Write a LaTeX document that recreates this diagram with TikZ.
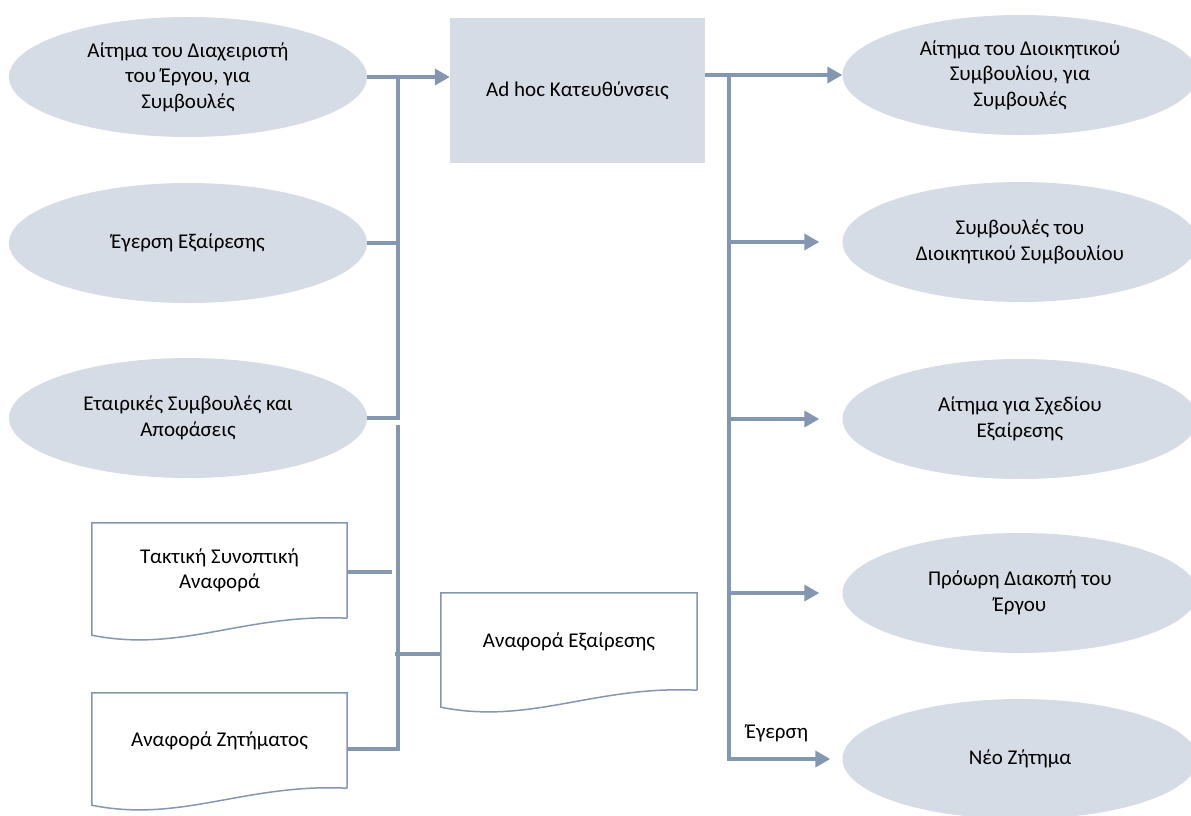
\documentclass[tikz,border=0pt]{standalone}
\usepackage{fontspec}
\setmainfont{Carlito}
\usepackage{tikz}
\usetikzlibrary{calc,positioning,arrows.meta,shapes.geometric}
\definecolor{linkgrey}{HTML}{8497B0}
\definecolor{shapefill}{HTML}{D6DCE5}
\tikzset{
    >={Triangle[length=15pt,width=16pt]},
    every node/.style={font=\fontsize{21}{25.5}\selectfont, align=center},
    oval/.style={
        ellipse,
        fill=shapefill,
        minimum width=358pt,
        minimum height=120pt,
        inner sep=0pt
    },
    task/.style={
        rectangle,
        fill=shapefill,
        minimum width=255pt,
        minimum height=145pt
    },
    report/.style={
        rectangle,
        minimum width=255pt,
        minimum height=95pt
    },
    docline/.style={draw=linkgrey, line width=1.5pt},
    link/.style={draw=linkgrey, line width=4pt},
}
% document symbol: straight top and sides, wavy bottom edge
\newcommand{\docoutline}[1]{%
    \draw[docline] (#1.south east) -- (#1.north east) -- (#1.north west)
        -- ($(#1.south west)+(0,17)$)
        .. controls ($(#1.south west)!0.35!(#1.south east)+(0,35)$)
        and ($(#1.south west)!0.6!(#1.south east)+(0,-5)$) .. (#1.south east);}

\begin{document}
\begin{tikzpicture}[x=1pt, y=-1pt]
    \path[use as bounding box, clip] (0,0) rectangle (1191,816);

    % inputs
    \node[oval] (req pm) at (188,77) {Αίτημα του Διαχειριστή\\του Έργου, για\\Συμβουλές};
    \node[oval] (raise exc) at (188,243) {Έγερση Εξαίρεσης};
    \node[oval] (corp) at (188,418) {Εταιρικές Συμβουλές και\\Αποφάσεις};
    \node[report] (highlight) at (219.5,570.5) {Τακτική Συνοπτική\\Αναφορά};
    \node[report] (issue rep) at (219.5,740.5) {Αναφορά Ζητήματος};
    \node[report, minimum width=256pt, minimum height=97pt] (exc rep) at (569,641.5) {Αναφορά Εξαίρεσης};
    \docoutline{highlight}
    \docoutline{issue rep}
    \docoutline{exc rep}

    \node[task] (adhoc) at (577.5,90.5) {Ad hoc Κατευθύνσεις};

    % outputs
    \node[oval, minimum width=355pt] (req board) at (1020,75) {Αίτημα του Διοικητικού\\Συμβουλίου, για\\Συμβουλές};
    \node[oval, minimum width=355pt] (board adv) at (1020,242) {Συμβουλές του\\Διοικητικού Συμβουλίου};
    \node[oval, minimum width=355pt] (exc plan) at (1020,419) {Αίτημα για Σχεδίου\\Εξαίρεσης};
    \node[oval, minimum width=355pt] (closure) at (1020,593) {Πρόωρη Διακοπή του\\Έργου};
    \node[oval, minimum width=355pt] (new issue) at (1020,759) {Νέο Ζήτημα};

    % left collector lines
    \coordinate (lx) at (398,0);
    \coordinate (low top) at (398,425);
    \coordinate (low bot) at (398,749);
    \coordinate (hl end) at (392,572);
    \coordinate (er start) at (395,654);
    \draw[link,->] (req pm.east) -- (req pm.east -| adhoc.west);
    \draw[link] (req pm.east -| lx) -- (corp.east -| lx) -- (corp.east);
    \draw[link] (raise exc.east) -- (raise exc.east -| lx);
    \draw[link] (low top) -- (low bot) -- (issue rep.east |- low bot);
    \draw[link] (highlight.east |- hl end) -- (hl end);
    \draw[link] (er start) -- (exc rep.west |- er start);

    % right distribution lines
    \coordinate (rx) at (729,0);
    \draw[link,->] (adhoc.east |- req board.west) -- (req board.west);
    \draw[link,->] (req board.west -| rx) -- (new issue.west -| rx) -- ($(new issue.west)+(-12,0)$);
    \foreach \out in {board adv, exc plan, closure}
        \draw[link,->] (\out.west -| rx) -- ($(\out.west)+(-23,0)$);
    \node (raise) at (777,733) {Έγερση};
\end{tikzpicture}
\end{document}
